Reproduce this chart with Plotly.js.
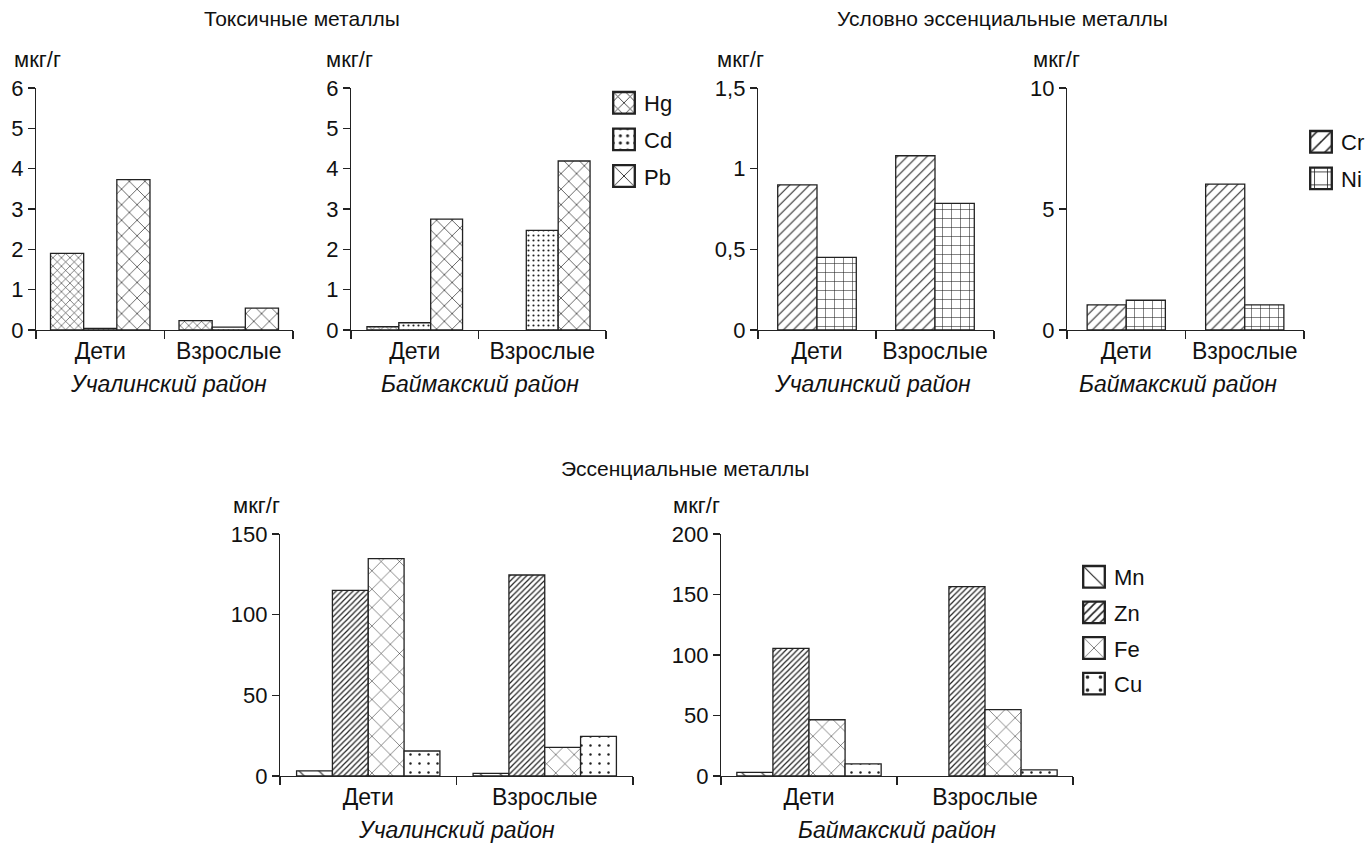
<!DOCTYPE html>
<html>
<head>
<meta charset="utf-8">
<script src="https://cdn.plot.ly/plotly-3.0.1.min.js"></script>
<style>html,body{margin:0;padding:0;background:#fff;}</style>
</head>
<body>
<div id="chart" style="width:1370px;height:843px;"></div>
<script>
// ---- data ----
const groups = ['Дети', 'Взрослые'];
// Токсичные металлы
const hgUch = [1.9, 0.23];
const cdUch = [0.04, 0.07];
const pbUch = [3.73, 0.54];
const hgBai = [0.08, null];
const cdBai = [0.18, 2.47];
const pbBai = [2.75, 4.19];
// Условно эссенциальные металлы
const crUch = [0.9, 1.08];
const niUch = [0.45, 0.785];
const crBai = [1.04, 6.03];
const niBai = [1.23, 1.04];
// Эссенциальные металлы
const mnUch = [3.2, 1.6];
const znUch = [115, 124.6];
const feUch = [134.7, 17.8];
const cuUch = [15.5, 24.5];
const mnBai = [3, null];
const znBai = [105.5, 156.5];
const feBai = [46.5, 54.8];
const cuBai = [10, 5];

// ---- styles ----
const FONT = 'Liberation Sans, Arial, Helvetica, sans-serif';
const pat = {
  Hg: {shape: 'x', size: 6, solidity: 0.18},
  Cd: {shape: '.', size: 5, solidity: 0.15},
  Pb: {shape: 'x', size: 11, solidity: 0.12},
  Cr: {shape: '/', size: 7, solidity: 0.15},
  Ni: {shape: '+', size: 9, solidity: 0.12},
  Mn: {shape: '\\', size: 14, solidity: 0.08},
  Zn: {shape: '/', size: 4, solidity: 0.3},
  Fe: {shape: 'x', size: 13, solidity: 0.08},
  Cu: {shape: '.', size: 9, solidity: 0.06}
};

function bar(name, vals, idx, n, width, ax, legend, show) {
  const p = pat[name];
  const start = -width * n / 2;
  return {
    type: 'bar', name: name, x: groups, y: vals,
    xaxis: 'x' + (ax === 1 ? '' : ax), yaxis: 'y' + (ax === 1 ? '' : ax),
    width: width, offset: start + idx * width,
    legend: legend, showlegend: show, legendgroup: name,
    marker: {
      color: 'white',
      line: {color: '#222', width: 1.3},
      pattern: {shape: p.shape, size: p.size, solidity: p.solidity, fgcolor: '#222', bgcolor: 'white', fillmode: 'replace'}
    },
    hoverinfo: 'x+y+name'
  };
}

const traces = [
  bar('Hg', hgUch, 0, 3, 0.258, 1, 'legend', false),
  bar('Cd', cdUch, 1, 3, 0.258, 1, 'legend', false),
  bar('Pb', pbUch, 2, 3, 0.258, 1, 'legend', false),
  bar('Hg', hgBai, 0, 3, 0.25, 2, 'legend', true),
  bar('Cd', cdBai, 1, 3, 0.25, 2, 'legend', true),
  bar('Pb', pbBai, 2, 3, 0.25, 2, 'legend', true),
  bar('Cr', crUch, 0, 2, 0.333, 3, 'legend2', false),
  bar('Ni', niUch, 1, 2, 0.333, 3, 'legend2', false),
  bar('Cr', crBai, 0, 2, 0.33, 4, 'legend2', true),
  bar('Ni', niBai, 1, 2, 0.33, 4, 'legend2', true),
  bar('Mn', mnUch, 0, 4, 0.203, 5, 'legend3', false),
  bar('Zn', znUch, 1, 4, 0.203, 5, 'legend3', false),
  bar('Fe', feUch, 2, 4, 0.203, 5, 'legend3', false),
  bar('Cu', cuUch, 3, 4, 0.203, 5, 'legend3', false),
  bar('Mn', mnBai, 0, 4, 0.205, 6, 'legend3', true),
  bar('Zn', znBai, 1, 4, 0.205, 6, 'legend3', true),
  bar('Fe', feBai, 2, 4, 0.205, 6, 'legend3', true),
  bar('Cu', cuBai, 3, 4, 0.205, 6, 'legend3', true)
];

const W = 1370, H = 843;
const px = v => v / W;
const py = v => 1 - v / H;

function xax(x0, x1, anchor) {
  return {
    domain: [px(x0), px(x1)], anchor: anchor, type: 'category',
    range: [-0.5, 1.5], tickson: 'boundaries', ticks: 'outside', ticklen: 8,
    tickwidth: 1.2, tickcolor: '#222', showline: true, linecolor: '#222', linewidth: 1.2,
    showgrid: false, zeroline: false, tickfont: {family: FONT, size: 23, color: '#111'},
    fixedrange: true
  };
}
function yax(y0, y1, anchor, max, dtick) {
  return {
    domain: [py(y1), py(y0)], anchor: anchor, range: [0, max], dtick: dtick, tick0: 0,
    ticks: 'outside', ticklen: 7, tickwidth: 1.2, tickcolor: '#222',
    showline: true, linecolor: '#222', linewidth: 1.2, showgrid: false, zeroline: false,
    tickfont: {family: FONT, size: 22, color: '#111'}, fixedrange: true
  };
}

function ann(text, x, y, size, italic, xanchor) {
  return {
    text: italic ? '<i>' + text + '</i>' : text, xref: 'paper', yref: 'paper',
    x: px(x), y: py(y), xanchor: xanchor || 'center', yanchor: 'middle',
    showarrow: false, font: {family: FONT, size: size, color: '#111'}
  };
}

const legBase = {
  font: {family: FONT, size: 22, color: '#111'}, bgcolor: 'rgba(0,0,0,0)',
  xanchor: 'left', yanchor: 'top', traceorder: 'grouped', itemwidth: 30,
  tracegroupgap: 5, itemclick: false, itemdoubleclick: false
};

const layout = {
  width: W, height: H, autosize: false,
  margin: {l: 0, r: 0, t: 0, b: 0},
  paper_bgcolor: 'white', plot_bgcolor: 'white',
  separators: ', ',
  barmode: 'overlay',
  showlegend: true,
  xaxis: xax(36, 293, 'y'), yaxis: yax(88, 330, 'x', 6, 1),
  xaxis2: xax(351, 606, 'y2'), yaxis2: yax(88, 330, 'x2', 6, 1),
  xaxis3: xax(758, 994, 'y3'), yaxis3: yax(88, 330, 'x3', 1.5, 0.5),
  xaxis4: xax(1067, 1304, 'y4'), yaxis4: yax(88, 330, 'x4', 10, 5),
  xaxis5: xax(280, 633, 'y5'), yaxis5: yax(534, 776, 'x5', 150, 50),
  xaxis6: xax(721, 1073, 'y6'), yaxis6: yax(534, 776, 'x6', 200, 50),
  legend: Object.assign({}, legBase, {x: px(604), y: py(82)}),
  legend2: Object.assign({}, legBase, {x: 1, xanchor: 'right', y: py(121)}),
  legend3: Object.assign({}, legBase, {x: px(1074), y: py(556), tracegroupgap: 4}),
  annotations: [
    ann('Токсичные металлы', 302, 18, 21),
    ann('Условно эссенциальные металлы', 1002, 18, 21),
    ann('Эссенциальные металлы', 685, 468, 21),
    ann('Учалинский район', 168, 384, 23, true),
    ann('Баймакский район', 480, 384, 23, true),
    ann('Учалинский район', 872, 384, 23, true),
    ann('Баймакский район', 1178, 384, 23, true),
    ann('Учалинский район', 456, 830, 23, true),
    ann('Баймакский район', 897, 830, 23, true),
    ann('мкг/г', 12, 60, 22, false, 'left'),
    ann('мкг/г', 324, 60, 22, false, 'left'),
    ann('мкг/г', 715, 60, 22, false, 'left'),
    ann('мкг/г', 1031, 60, 22, false, 'left'),
    ann('мкг/г', 231, 506, 22, false, 'left'),
    ann('мкг/г', 671, 506, 22, false, 'left')
  ]
};

Plotly.newPlot('chart', traces, layout, {displayModeBar: false, staticPlot: true}).then(function () {
  document.querySelectorAll('.legendpoints path').forEach(function (p) {
    const old = p.getAttribute('transform') || '';
    p.setAttribute('transform', old + ' scale(1.8)');
  });
});
</script>
</body>
</html>
